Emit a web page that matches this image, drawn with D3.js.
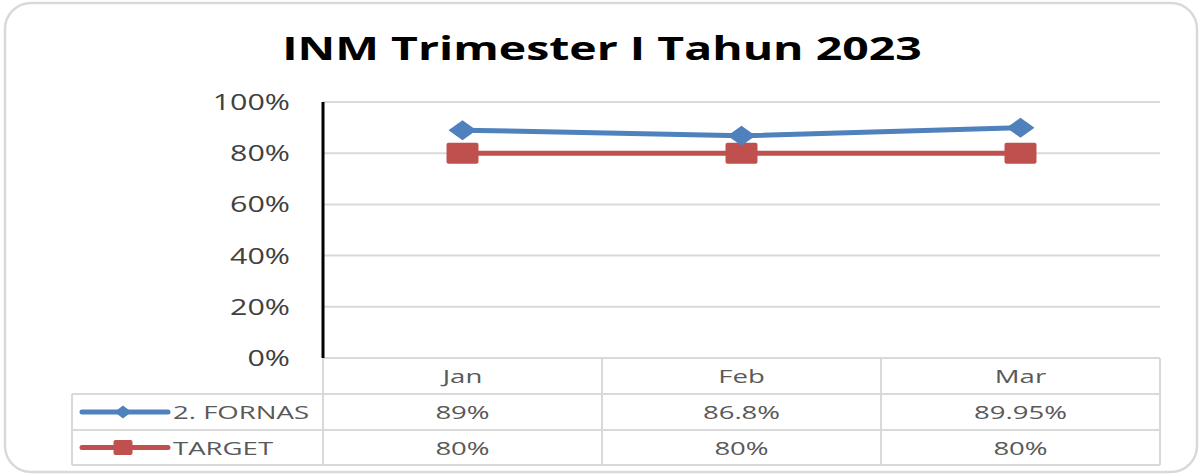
<!DOCTYPE html>
<html>
<head>
<meta charset="utf-8">
<script src="https://cdn.jsdelivr.net/npm/d3@7"></script>
<style>
  html, body { margin: 0; padding: 0; background: #ffffff; }
  text { font-family: "Open Sans", "Noto Sans", sans-serif; }
</style>
</head>
<body>
<div id="chart"></div>
<script>
const months = ["Jan", "Feb", "Mar"];
const fornasValues = [0.89, 0.868, 0.8995];
const fornasLabels = ["89%", "86.8%", "89.95%"];
const targetValues = [0.8, 0.8, 0.8];
const targetLabels = ["80%", "80%", "80%"];
const yTicks = [0, 0.2, 0.4, 0.6, 0.8, 1];
const seriesNames = ["2. FORNAS", "TARGET"];

const WIDTH = 1201;
const HEIGHT = 476;
const PLOT = { left: 323, right: 1160, top: 102, bottom: 358 };
const TABLE_LEFT = 72;
const ROW_LINES = [358, 394, 430, 465];
const STRETCH = 1.45;
const GRID_COLOR = "#d9d9d9";
const TEXT_GRAY = "#595959";
const BLUE = "#4f81bd";
const RED = "#c0504d";

const svg = d3
  .select("#chart")
  .append("svg")
  .attr("width", WIDTH)
  .attr("height", HEIGHT)
  .attr("viewBox", `0 0 ${WIDTH} ${HEIGHT}`);

svg
  .append("rect")
  .attr("x", 5)
  .attr("y", 3)
  .attr("width", 1192)
  .attr("height", 469)
  .attr("rx", 26)
  .attr("fill", "#ffffff")
  .attr("stroke", GRID_COLOR)
  .attr("stroke-width", 2.5);

// stretched text, the original picture is wider than tall
function stretchedText(parent, x, y, label, size, anchor, color, weight) {
  return parent
    .append("text")
    .attr("transform", `translate(${x},${y}) scale(${STRETCH},1)`)
    .attr("text-anchor", anchor)
    .attr("font-size", size)
    .attr("font-weight", weight || "normal")
    .attr("fill", color)
    .text(label);
}

stretchedText(svg, 602, 60, "INM Trimester I Tahun 2023", 32, "middle", "#000000", "bold");

const x = d3.scaleBand().domain(months).range([PLOT.left, PLOT.right]);
const y = d3.scaleLinear().domain([0, 1]).range([PLOT.bottom, PLOT.top]);
const cx = (month) => x(month) + x.bandwidth() / 2;

svg
  .append("g")
  .selectAll("line")
  .data(yTicks)
  .enter()
  .append("line")
  .attr("x1", PLOT.left)
  .attr("x2", PLOT.right)
  .attr("y1", (t) => y(t))
  .attr("y2", (t) => y(t))
  .attr("stroke", GRID_COLOR)
  .attr("stroke-width", 2);

const tickGroup = svg.append("g");
yTicks.forEach((t) => {
  stretchedText(tickGroup, 290, y(t) + 8, d3.format(".0%")(t), 21, "end", "#404040");
});

// data table below the plot
const table = svg.append("g").attr("stroke", GRID_COLOR).attr("stroke-width", 2);
ROW_LINES.forEach((rowY, i) => {
  table
    .append("line")
    .attr("x1", i === 0 ? PLOT.left : TABLE_LEFT)
    .attr("x2", PLOT.right)
    .attr("y1", rowY)
    .attr("y2", rowY);
});
[PLOT.left, ...months.map((m) => x(m) + x.bandwidth())].forEach((colX) => {
  table
    .append("line")
    .attr("x1", colX)
    .attr("x2", colX)
    .attr("y1", ROW_LINES[0])
    .attr("y2", ROW_LINES[3]);
});
table
  .append("line")
  .attr("x1", TABLE_LEFT)
  .attr("x2", TABLE_LEFT)
  .attr("y1", ROW_LINES[1])
  .attr("y2", ROW_LINES[3]);

svg
  .append("line")
  .attr("x1", PLOT.left)
  .attr("x2", PLOT.left)
  .attr("y1", PLOT.top)
  .attr("y2", PLOT.bottom)
  .attr("stroke", "#000000")
  .attr("stroke-width", 3);

const tableText = svg.append("g");
const rowMid = (i) => (ROW_LINES[i] + ROW_LINES[i + 1]) / 2 + 7;
months.forEach((m, i) => {
  stretchedText(tableText, cx(m), rowMid(0), m, 19, "middle", TEXT_GRAY);
  stretchedText(tableText, cx(m), rowMid(1), fornasLabels[i], 19, "middle", TEXT_GRAY);
  stretchedText(tableText, cx(m), rowMid(2), targetLabels[i], 19, "middle", TEXT_GRAY);
});

function diamond(parent, px, py, w, h, color) {
  parent
    .append("path")
    .attr("d", `M${px - w / 2},${py} L${px},${py - h / 2} L${px + w / 2},${py} L${px},${py + h / 2} Z`)
    .attr("fill", color);
}

function square(parent, px, py, w, h, color) {
  parent
    .append("rect")
    .attr("x", px - w / 2)
    .attr("y", py - h / 2)
    .attr("width", w)
    .attr("height", h)
    .attr("rx", 2)
    .attr("fill", color);
}

// legend keys in the table
const legend = svg.append("g");
[BLUE, RED].forEach((color, i) => {
  const ly = (ROW_LINES[i + 1] + ROW_LINES[i + 2]) / 2;
  legend
    .append("line")
    .attr("x1", 82)
    .attr("x2", 168)
    .attr("y1", ly)
    .attr("y2", ly)
    .attr("stroke", color)
    .attr("stroke-width", 5)
    .attr("stroke-linecap", "round");
  if (i === 0) diamond(legend, 123, ly, 17, 13, color);
  else square(legend, 123, ly, 19, 15, color);
  stretchedText(legend, 173, ly + 7, seriesNames[i], 19, "start", TEXT_GRAY);
});

const line = d3
  .line()
  .x((d) => cx(d.month))
  .y((d) => y(d.value));

const fornas = months.map((m, i) => ({ month: m, value: fornasValues[i] }));
const target = months.map((m, i) => ({ month: m, value: targetValues[i] }));

svg
  .append("path")
  .datum(target)
  .attr("d", line)
  .attr("fill", "none")
  .attr("stroke", RED)
  .attr("stroke-width", 5);

const targetMarks = svg.append("g");
target.forEach((d) => square(targetMarks, cx(d.month), y(d.value), 32, 21, RED));

svg
  .append("path")
  .datum(fornas)
  .attr("d", line)
  .attr("fill", "none")
  .attr("stroke", BLUE)
  .attr("stroke-width", 5);

const fornasMarks = svg.append("g");
fornas.forEach((d) => diamond(fornasMarks, cx(d.month), y(d.value), 28, 20, BLUE));
</script>
</body>
</html>
